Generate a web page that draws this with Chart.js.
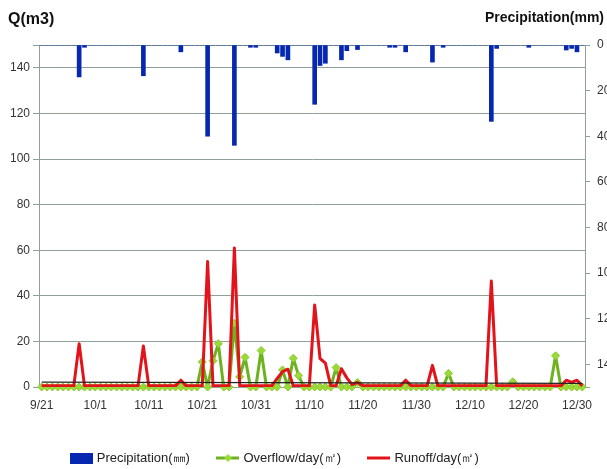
<!DOCTYPE html>
<html>
<head>
<meta charset="utf-8">
<script src="https://cdn.jsdelivr.net/npm/chart.js@4/dist/chart.umd.min.js"></script>
<style>
  body { margin: 0; background: #fff; }
  canvas { display: block; }
</style>
</head>
<body>
<canvas id="rainChart" width="607" height="469"></canvas>
<script>
// dates 9/21 .. 12/31
var dates = [
  '9/21','9/22','9/23','9/24','9/25','9/26','9/27','9/28','9/29','9/30',
  '10/1','10/2','10/3','10/4','10/5','10/6','10/7','10/8','10/9','10/10',
  '10/11','10/12','10/13','10/14','10/15','10/16','10/17','10/18','10/19','10/20',
  '10/21','10/22','10/23','10/24','10/25','10/26','10/27','10/28','10/29','10/30',
  '10/31','11/1','11/2','11/3','11/4','11/5','11/6','11/7','11/8','11/9',
  '11/10','11/11','11/12','11/13','11/14','11/15','11/16','11/17','11/18','11/19',
  '11/20','11/21','11/22','11/23','11/24','11/25','11/26','11/27','11/28','11/29',
  '11/30','12/1','12/2','12/3','12/4','12/5','12/6','12/7','12/8','12/9',
  '12/10','12/11','12/12','12/13','12/14','12/15','12/16','12/17','12/18','12/19',
  '12/20','12/21','12/22','12/23','12/24','12/25','12/26','12/27','12/28','12/29',
  '12/30','12/31'
];

// 降水量 (mm), right axis, reversed
var precipitation = [
  0, 0, 0, 0, 0, 0, 0, 14, 1, 0,
  0, 0, 0, 0, 0, 0, 0, 0, 0, 13.5,
  0, 0, 0, 0, 0, 0, 3, 0, 0, 0,
  0, 40, 0, 0, 0, 0, 44, 0, 0, 1,
  1, 0, 0, 0, 3.5, 5, 6.5, 0, 0, 0,
  0, 26, 9, 8, 0, 0, 6.5, 2.5, 0, 2,
  0, 0, 0, 0, 0, 1, 1, 0, 3, 0,
  0, 0, 0, 7.5, 0, 1, 0, 0, 0, 0,
  0, 0, 0, 0, 33.5, 1.5, 0, 0, 0, 0,
  0, 1, 0, 0, 0, 0, 0, 0, 2.2, 1.5,
  3, 0
];

// 溢流量 (m3/day)
var overflow = [
  0, 0, 0, 0, 0, 0, 0, 0, 0, 0,
  0, 0, 0, 0, 0, 0, 0, 0, 0, 0,
  0, 0, 0, 0, 0, 0, 0, 0, 0, 0,
  11, 0, 11.5, 19, 0, 0, 28, 4.5, 13, 0,
  0, 16, 0, 0, 0, 7.5, 0, 12.6, 5, 0,
  0, 0, 0, 0, 0, 8.5, 0, 0, 0, 2,
  0, 0, 0, 0, 0, 0, 0, 0, 0, 0,
  0, 0, 0, 0, 0, 0, 6, 0, 0, 0,
  0, 0, 0, 0, 0, 0, 0, 0, 2.3, 0,
  0, 0, 0, 0, 0, 0, 13.7, 0, 0, 0,
  0, 0
];

// 径流量 (m3/day)
var runoff = [
  0.5, 0.5, 0.5, 0.5, 0.5, 0.5, 0.5, 19, 0.5, 0.5,
  0.5, 0.5, 0.5, 0.5, 0.5, 0.5, 0.5, 0.5, 0.5, 18,
  0.5, 0.5, 0.5, 0.5, 0.5, 0.5, 3, 0.5, 0.5, 0.5,
  0.5, 55, 0.5, 0.5, 0.5, 0.5, 61, 0.5, 0.5, 0.5,
  0.5, 0.5, 0.5, 0.5, 3.8, 6.7, 7.8, 0.5, 0.5, 0.5,
  0.5, 36, 12.5, 10.5, 0.5, 0.5, 8, 4, 1, 2,
  0.5, 0.5, 0.5, 0.5, 0.5, 0.5, 0.5, 0.5, 3, 0.5,
  0.5, 0.5, 0.5, 9.5, 0.5, 0.5, 0.5, 0.5, 0.5, 0.5,
  0.5, 0.5, 0.5, 0.5, 46.5, 0.5, 0.5, 0.5, 0.5, 0.5,
  0.5, 0.5, 0.5, 0.5, 0.5, 0.5, 0.5, 0.5, 3, 2,
  3, 0.5
];

// 趋势线 (only the two ends)
var trend = new Array(102).fill(null);
trend[0] = 2.1;
trend[101] = 1.6;

var gridColor = '#8fa197';
var blue = '#0628b0';
var green = '#6cb31f';
var greenMarker = '#9bd83a';
var red = '#e3131b';

// legend icons
function makeIcon(kind) {
    var c = document.createElement('canvas');
    c.width = 23;
    c.height = 11;
    var g = c.getContext('2d');
    if (kind === 'bar') {
        g.fillStyle = blue;
        g.fillRect(0, 0, 23, 11);
    } else {
        g.strokeStyle = kind === 'green' ? green : red;
        g.lineWidth = 3;
        g.beginPath();
        g.moveTo(0, 5.5);
        g.lineTo(23, 5.5);
        g.stroke();
        if (kind === 'green') {
            g.fillStyle = greenMarker;
            g.beginPath();
            g.moveTo(11.5, 1.5);
            g.lineTo(15.5, 5.5);
            g.lineTo(11.5, 9.5);
            g.lineTo(7.5, 5.5);
            g.closePath();
            g.fill();
        }
    }
    return c;
}
var legendIcons = [makeIcon('bar'), makeIcon('green'), makeIcon('red'), null];

var axisTitles = {
    id: 'axisTitles',
    afterDraw: function (chart) {
        var c = chart.ctx;
        c.save();
        c.fillStyle = '#111';
        c.textBaseline = 'middle';
        c.textAlign = 'left';
        c.font = 'bold 16px "Liberation Sans", Arial, sans-serif';
        c.fillText('Q(m3)', 8, 20);
        c.textAlign = 'right';
        c.font = 'bold 14px "Liberation Sans", Arial, sans-serif';
        c.fillText('Precipitation(mm)', 604, 18);
        c.restore();
    }
};

Chart.defaults.font.family = '"Liberation Sans", Arial, sans-serif';
Chart.defaults.color = '#333';

var ctx = document.getElementById('rainChart').getContext('2d');
var rainChart = new Chart(ctx, {
    type: 'bar',
    data: {
        labels: dates,
        datasets: [{
            label: 'Precipitation(㎜)',
            data: precipitation,
            backgroundColor: blue,
            barThickness: 4,
            yAxisID: 'y2',
            order: 4
        }, {
            type: 'line',
            label: 'Overflow/day(㎡)',
            data: overflow,
            borderColor: green,
            borderWidth: 3,
            borderJoinStyle: 'round',
            pointStyle: 'rectRot',
            pointRadius: 4,
            pointBackgroundColor: greenMarker,
            pointBorderColor: '#8ccc2e',
            pointBorderWidth: 1,
            tension: 0,
            clip: false,
            yAxisID: 'y',
            order: 3
        }, {
            type: 'line',
            label: 'Runoff/day(㎡)',
            data: runoff,
            borderColor: red,
            borderWidth: 3,
            borderJoinStyle: 'round',
            pointRadius: 0,
            tension: 0,
            yAxisID: 'y',
            order: 2
        }, {
            type: 'line',
            label: 'trend',
            data: trend,
            borderColor: '#222',
            borderWidth: 1.3,
            pointRadius: 0,
            spanGaps: true,
            yAxisID: 'y',
            order: 1
        }]
    },
    options: {
        responsive: false,
        animation: false,
        devicePixelRatio: 1,
        layout: {
            padding: { top: 45, left: -56, right: 0, bottom: -5.5 }
        },
        scales: {
            x: {
                offset: true,
                grid: { display: false },
                border: { color: gridColor },
                ticks: {
                    autoSkip: false,
                    maxRotation: 0,
                    padding: 3,
                    color: '#333',
                    font: { size: 12 },
                    callback: function (v, i) {
                        return i % 10 === 0 ? dates[i] : '';
                    }
                },
                afterFit: function (s) { s.height = 35.5; }
            },
            y: {
                position: 'left',
                min: 0,
                max: 150,
                grid: { color: gridColor, tickLength: 6 },
                border: { color: gridColor },
                ticks: {
                    stepSize: 20,
                    padding: 3,
                    color: '#333',
                    font: { size: 12 },
                    callback: function (v) { return v === 150 ? '' : v; }
                },
                afterFit: function (s) { s.width = 95; }
            },
            y2: {
                position: 'right',
                reverse: true,
                min: 0,
                max: 150,
                grid: { drawOnChartArea: false, color: gridColor, tickLength: 5 },
                border: { color: gridColor },
                ticks: {
                    stepSize: 20,
                    padding: 7,
                    color: '#333',
                    font: { size: 12 },
                    callback: function (v) { return v === 150 ? '' : v; }
                },
                afterFit: function (s) { s.width = 22; }
            }
        },
        plugins: {
            legend: {
                position: 'bottom',
                labels: {
                    usePointStyle: true,
                    pointStyleWidth: 18,
                    padding: 29,
                    color: '#222',
                    font: { size: 13 },
                    filter: function (item) { return item.datasetIndex !== 3; },
                    sort: function (a, b) { return a.datasetIndex - b.datasetIndex; },
                    generateLabels: function (chart) {
                        var items = Chart.defaults.plugins.legend.labels.generateLabels(chart);
                        items.forEach(function (it) {
                            it.pointStyle = legendIcons[it.datasetIndex];
                        });
                        return items;
                    }
                }
            },
            tooltip: { enabled: false }
        }
    },
    plugins: [axisTitles]
});
</script>
</body>
</html>
